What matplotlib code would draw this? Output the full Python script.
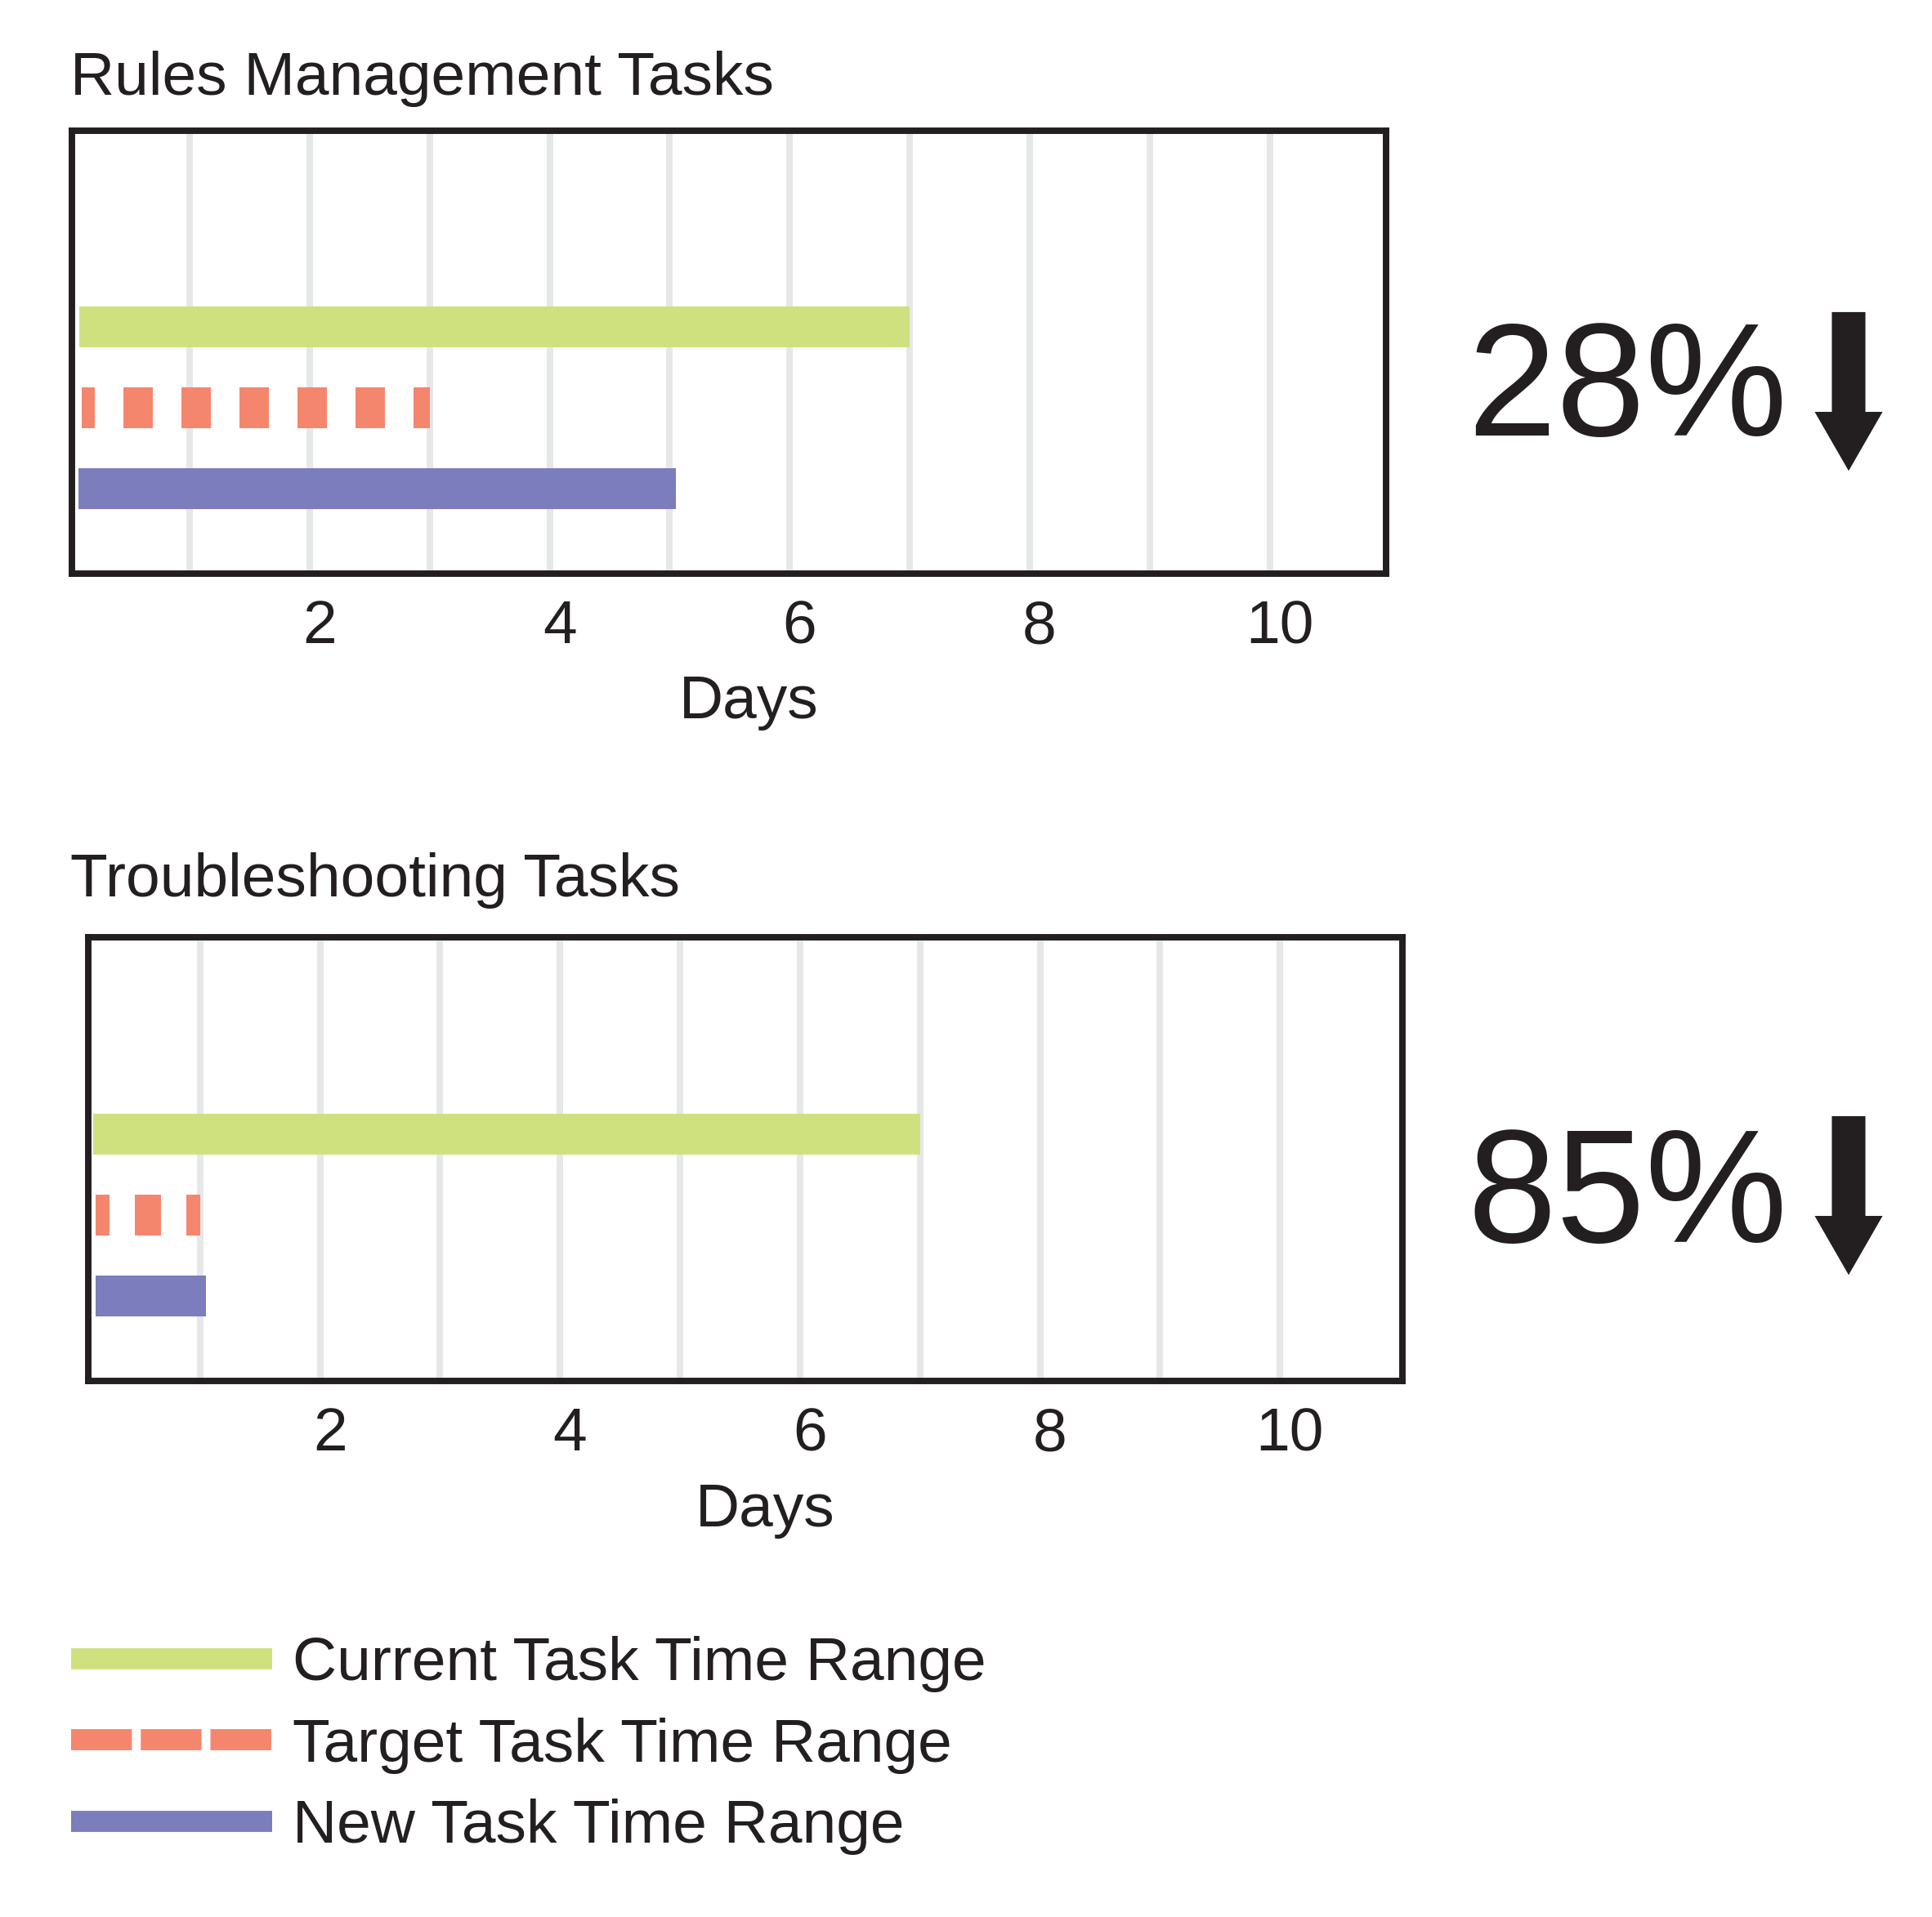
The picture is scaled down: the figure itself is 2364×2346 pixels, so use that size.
import matplotlib
matplotlib.use("Agg")
import matplotlib.pyplot as plt
import matplotlib.transforms as mtransforms
from matplotlib.lines import Line2D
from matplotlib.patches import FancyArrow

plt.rcParams['font.family'] = ['Liberation Sans', 'DejaVu Sans']

# Data (days)
series_names = ["Current Task Time Range", "Target Task Time Range", "New Task Time Range"]
panel_titles = ["Rules Management Tasks", "Troubleshooting Tasks"]
rules_start = [0.08, 0.1, 0.07]
rules_end = [7, 3, 5.05]
trouble_start = [0.11, 0.13, 0.13]
trouble_end = [7, 1, 1.05]
reductions = [28, 85]
grid_days = [1, 2, 3, 4, 5, 6, 7, 8, 9, 10]
tick_days = [2, 4, 6, 8, 10]

colors = ['#cfe17f', '#f5866e', '#7b7dbc']
dark = '#231f20'

fig = plt.figure(figsize=(7.88, 7.82), dpi=300)

# panel layout (figure fractions) and x ranges
positions = [[0.0372, 0.7008, 0.6802, 0.2310],
             [0.0455, 0.2796, 0.6804, 0.2315]]
xlims = [(0.017, 10.97), (0.065, 11.02)]
dash_styles = [(0.4, (0.72, 0.70)), (0.3, (0.64, 0.62))]
title_y = [0.9506, 0.5324]
number_y = [0.7728, 0.3521]
arrow_top = [6.54, 3.26]  # inches from bottom

starts = [rules_start, trouble_start]
ends = [rules_end, trouble_end]

for i in range(2):
    ax = fig.add_axes(positions[i])
    ypos = [3, 2, 1]
    for j in range(3):
        if j == 1:
            ax.plot([starts[i][j], ends[i][j]], [ypos[j], ypos[j]], color=colors[j], lw=12,
                    linestyle=dash_styles[i], dash_capstyle='butt')
        else:
            ax.plot([starts[i][j], ends[i][j]], [ypos[j], ypos[j]], color=colors[j], lw=12,
                    solid_capstyle='butt')

    ax.set_xlim(xlims[i])
    ax.set_ylim(-0.05, 5.43)
    ax.set_yticks([])
    ax.set_xticks(grid_days)
    ax.set_xticklabels([str(d) if d in tick_days else '' for d in grid_days])
    ax.tick_params(axis='x', length=0, pad=7.5, labelsize=18, labelcolor=dark)
    ax.grid(axis='x', color='#e6e7e8', lw=1.9)
    ax.set_axisbelow(True)
    for s in ax.spines.values():
        s.set_linewidth(1.9)
        s.set_color(dark)

    # tick labels sit a little right of the grid lines
    offset = mtransforms.ScaledTranslation(12 / 300, 0, fig.dpi_scale_trans)
    for label in ax.xaxis.get_majorticklabels():
        label.set_transform(label.get_transform() + offset)

    ax.set_xlabel("Days", fontsize=18, color=dark)
    ax.xaxis.set_label_coords(0.515, -0.228)
    ax.xaxis.label.set_va('top')

    fig.text(0.0362, title_y[i], panel_titles[i], fontsize=18, color=dark, va='baseline')

    # percentage reduction with down arrow
    fig.text(0.7595, number_y[i], f"{reductions[i]}%", fontsize=47, color=dark, va='baseline')
    arrow = FancyArrow(7.54, arrow_top[i], 0, -0.627, width=0.123, head_width=0.253,
                       head_length=0.22, length_includes_head=True, color=dark,
                       transform=fig.dpi_scale_trans)
    fig.add_artist(arrow)

# Legend
handles = [Line2D([], [], color=colors[0], lw=6.2, solid_capstyle='butt'),
           Line2D([], [], color=colors[1], lw=6.2, linestyle=(0, (2.88, 0.42)), dash_capstyle='butt'),
           Line2D([], [], color=colors[2], lw=6.2, solid_capstyle='butt')]
fig.legend(handles, series_names, loc='center left', bbox_to_anchor=(0.0368, 0.0895),
           frameon=False, fontsize=18, handlelength=3.28, handletextpad=0.33,
           labelspacing=0.41, borderpad=0, borderaxespad=0, labelcolor=dark)

fig.savefig("out.png", dpi=300)
